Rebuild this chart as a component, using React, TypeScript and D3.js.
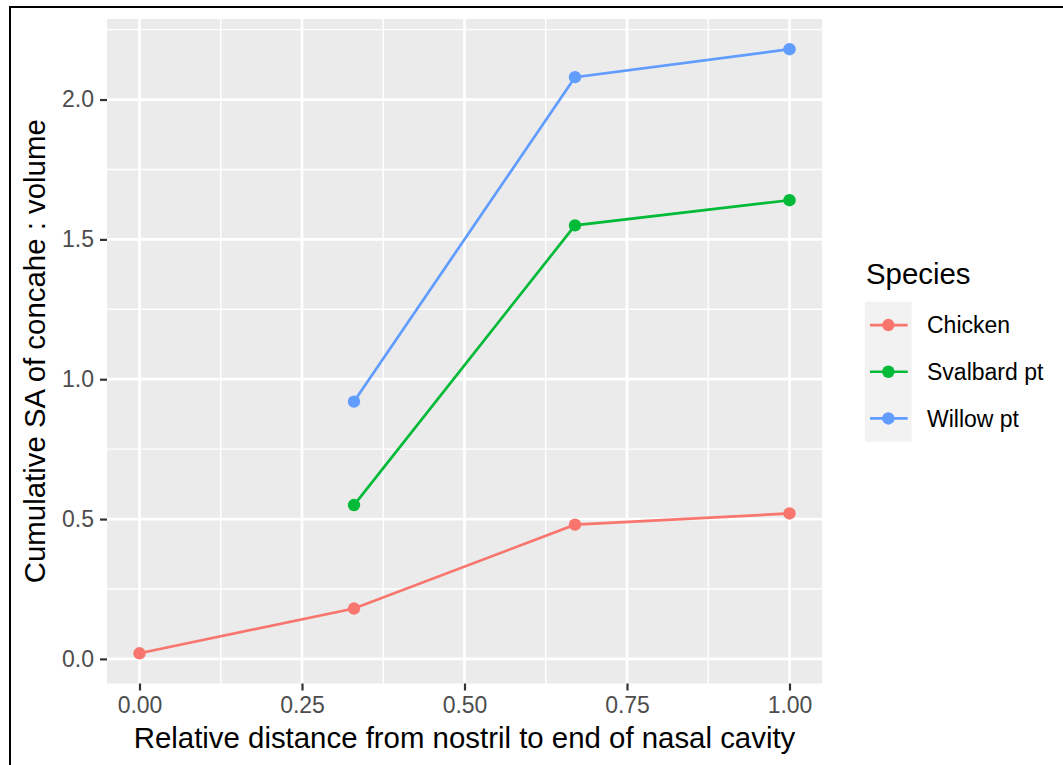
import React, { useRef, useEffect } from "react";
import * as d3 from "d3";

const WIDTH = 1063;
const HEIGHT = 765;
const PANEL = { left: 107, right: 822, top: 19, bottom: 683.5 };
const FONT = "'Liberation Sans', Arial, Helvetica, sans-serif";

const SPECIES = ["Chicken", "Svalbard pt", "Willow pt"];
const COLORS = ["#F8766D", "#00BA38", "#619CFF"];

const CHICKEN = [
  { x: 0, y: 0.02 },
  { x: 0.33, y: 0.18 },
  { x: 0.67, y: 0.48 },
  { x: 1, y: 0.52 },
];
const SVALBARD = [
  { x: 0.33, y: 0.55 },
  { x: 0.67, y: 1.55 },
  { x: 1, y: 1.64 },
];
const WILLOW = [
  { x: 0.33, y: 0.92 },
  { x: 0.67, y: 2.08 },
  { x: 1, y: 2.18 },
];
const SERIES = [CHICKEN, SVALBARD, WILLOW];

const X_TICKS = [0, 0.25, 0.5, 0.75, 1];
const X_MINOR = [0.125, 0.375, 0.625, 0.875];
const Y_TICKS = [0, 0.5, 1, 1.5, 2];
const Y_MINOR = [0.25, 0.75, 1.25, 1.75, 2.25];

export default function App() {
  const svgRef = useRef(null);

  useEffect(() => {
    const svg = d3.select(svgRef.current);
    svg.selectAll("*").remove();

    // ggplot-style 5% expansion
    const allY = SERIES.flat().map((d) => d.y);
    const [y0, y1] = d3.extent(allY);
    const padY = (y1 - y0) * 0.05;
    const x = d3.scaleLinear().domain([-0.05, 1.05]).range([PANEL.left, PANEL.right]);
    const y = d3.scaleLinear().domain([y0 - padY, y1 + padY]).range([PANEL.bottom, PANEL.top]);

    // outer frame
    svg.append("rect")
      .attr("x", 10).attr("y", 7)
      .attr("width", 1200).attr("height", 900)
      .attr("fill", "none").attr("stroke", "#000").attr("stroke-width", 2);

    // panel
    svg.append("rect")
      .attr("x", PANEL.left).attr("y", PANEL.top)
      .attr("width", PANEL.right - PANEL.left).attr("height", PANEL.bottom - PANEL.top)
      .attr("fill", "#EBEBEB");

    const grid = svg.append("g").attr("stroke", "#fff");
    Y_MINOR.forEach((v) => {
      grid.append("line").attr("x1", PANEL.left).attr("x2", PANEL.right)
        .attr("y1", y(v)).attr("y2", y(v)).attr("stroke-width", 1.4);
    });
    X_MINOR.forEach((v) => {
      grid.append("line").attr("y1", PANEL.top).attr("y2", PANEL.bottom)
        .attr("x1", x(v)).attr("x2", x(v)).attr("stroke-width", 1.4);
    });
    Y_TICKS.forEach((v) => {
      grid.append("line").attr("x1", PANEL.left).attr("x2", PANEL.right)
        .attr("y1", y(v)).attr("y2", y(v)).attr("stroke-width", 2.7);
    });
    X_TICKS.forEach((v) => {
      grid.append("line").attr("y1", PANEL.top).attr("y2", PANEL.bottom)
        .attr("x1", x(v)).attr("x2", x(v)).attr("stroke-width", 2.7);
    });

    // lines + points
    const line = d3.line().x((d) => x(d.x)).y((d) => y(d.y));
    SERIES.forEach((s, i) => {
      svg.append("path").datum(s)
        .attr("d", line).attr("fill", "none")
        .attr("stroke", COLORS[i]).attr("stroke-width", 2.7);
      svg.selectAll(null).data(s).enter().append("circle")
        .attr("cx", (d) => x(d.x)).attr("cy", (d) => y(d.y))
        .attr("r", 6.2).attr("fill", COLORS[i]);
    });

    // axes
    const xAxis = svg.append("g")
      .attr("transform", `translate(0,${PANEL.bottom})`)
      .call(d3.axisBottom(x).tickValues(X_TICKS).tickFormat(d3.format(".2f")).tickSize(7).tickPadding(6));
    const yAxis = svg.append("g")
      .attr("transform", `translate(${PANEL.left},0)`)
      .call(d3.axisLeft(y).tickValues(Y_TICKS).tickFormat(d3.format(".1f")).tickSize(7).tickPadding(6));
    [xAxis, yAxis].forEach((a) => {
      a.select(".domain").remove();
      a.selectAll("line").attr("stroke", "#333").attr("stroke-width", 2.2);
      a.selectAll("text").attr("font-family", FONT).attr("font-size", 23).attr("fill", "#4D4D4D");
    });

    // axis titles
    svg.append("text")
      .attr("x", (PANEL.left + PANEL.right) / 2).attr("y", 748)
      .attr("text-anchor", "middle").attr("font-family", FONT).attr("font-size", 29.4)
      .text("Relative distance from nostril to end of nasal cavity");
    svg.append("text")
      .attr("transform", `translate(45,${(PANEL.top + PANEL.bottom) / 2}) rotate(-90)`)
      .attr("text-anchor", "middle").attr("font-family", FONT).attr("font-size", 29.4)
      .text("Cumulative SA of concahe : volume");

    // legend
    const lg = svg.append("g").attr("transform", "translate(865,0)");
    lg.append("text").attr("x", 1).attr("y", 284)
      .attr("font-family", FONT).attr("font-size", 29.4).text("Species");
    const keySize = 46.7;
    const keyTop = 301.7;
    lg.append("rect").attr("x", 0).attr("y", keyTop)
      .attr("width", keySize).attr("height", keySize * SPECIES.length).attr("fill", "#F2F2F2");
    SPECIES.forEach((name, i) => {
      const cy = keyTop + keySize * (i + 0.5);
      lg.append("line").attr("x1", 5).attr("x2", keySize - 4)
        .attr("y1", cy).attr("y2", cy).attr("stroke", COLORS[i]).attr("stroke-width", 2.7);
      lg.append("circle").attr("cx", keySize / 2).attr("cy", cy).attr("r", 6.2).attr("fill", COLORS[i]);
      lg.append("text").attr("x", 62).attr("y", cy).attr("dy", "0.35em")
        .attr("font-family", FONT).attr("font-size", 23).text(name);
    });
  }, []);

  return (
    <svg
      ref={svgRef}
      width={WIDTH}
      height={HEIGHT}
      style={{ position: "absolute", left: 0, top: 0, background: "#fff" }}
    />
  );
}
